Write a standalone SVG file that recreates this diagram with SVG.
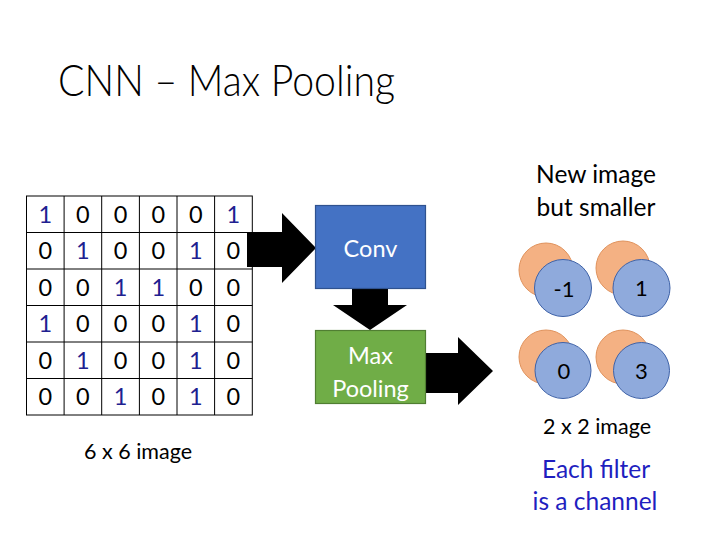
<svg xmlns="http://www.w3.org/2000/svg" width="720" height="540" viewBox="0 0 720 540">
<style>
text{font-family:Lato,"Open Sans","Liberation Sans",sans-serif;}
.t{font-size:44px;font-weight:300;fill:#000;}
.g{font-size:23.5px;text-anchor:middle;fill:#000;}
.one{fill:#202090;}
.lbl{font-size:21.5px;text-anchor:middle;fill:#000;}
.big{font-size:24.5px;text-anchor:middle;fill:#000;}
.blue{font-size:24.5px;text-anchor:middle;fill:#1f1fbf;}
.box{font-size:23.5px;text-anchor:middle;fill:#fff;}
.gl{stroke:#000;stroke-width:1;fill:none;}
.or{fill:#F4B183;stroke:#E0925C;stroke-width:1;}
.bl{fill:#8FAADC;stroke:#3E62A8;stroke-width:1;}
.arr{fill:#000;}
.c{font-size:22px;text-anchor:middle;fill:#000;}
</style>
<rect width="720" height="540" fill="#fff"/>
<text class="t" x="58" y="96" textLength="337" lengthAdjust="spacingAndGlyphs">CNN – Max Pooling</text>

<g id="connectors">
<polygon class="arr" points="247,232 282,232 282,213 316,248 282,283 282,267 247,267"/>
<polygon class="arr" points="352,289 388,289 388,305 407,305 370,330 333,305 352,305"/>
<polygon class="arr" points="423,353 458,353 458,337 493,371 458,405 458,393 423,393"/>
</g>

<g id="grid">
<g class="gl">
<rect x="26.5" y="196" width="225.8" height="219"/>
<line x1="64.1" y1="196" x2="64.1" y2="415"/>
<line x1="101.7" y1="196" x2="101.7" y2="415"/>
<line x1="139.4" y1="196" x2="139.4" y2="415"/>
<line x1="177" y1="196" x2="177" y2="415"/>
<line x1="214.6" y1="196" x2="214.6" y2="415"/>
<line x1="26.5" y1="232.5" x2="252.3" y2="232.5"/>
<line x1="26.5" y1="269" x2="252.3" y2="269"/>
<line x1="26.5" y1="305.5" x2="252.3" y2="305.5"/>
<line x1="26.5" y1="342" x2="252.3" y2="342"/>
<line x1="26.5" y1="378.5" x2="252.3" y2="378.5"/>
</g>
<text class="g one" x="45.3" y="222.5">1</text><text class="g" x="82.9" y="222.5">0</text><text class="g" x="120.5" y="222.5">0</text><text class="g" x="158.2" y="222.5">0</text><text class="g" x="195.8" y="222.5">0</text><text class="g one" x="233.4" y="222.5">1</text>
<text class="g" x="45.3" y="259">0</text><text class="g one" x="82.9" y="259">1</text><text class="g" x="120.5" y="259">0</text><text class="g" x="158.2" y="259">0</text><text class="g one" x="195.8" y="259">1</text><text class="g" x="233.4" y="259">0</text>
<text class="g" x="45.3" y="295.5">0</text><text class="g" x="82.9" y="295.5">0</text><text class="g one" x="120.5" y="295.5">1</text><text class="g one" x="158.2" y="295.5">1</text><text class="g" x="195.8" y="295.5">0</text><text class="g" x="233.4" y="295.5">0</text>
<text class="g one" x="45.3" y="332">1</text><text class="g" x="82.9" y="332">0</text><text class="g" x="120.5" y="332">0</text><text class="g" x="158.2" y="332">0</text><text class="g one" x="195.8" y="332">1</text><text class="g" x="233.4" y="332">0</text>
<text class="g" x="45.3" y="368.5">0</text><text class="g one" x="82.9" y="368.5">1</text><text class="g" x="120.5" y="368.5">0</text><text class="g" x="158.2" y="368.5">0</text><text class="g one" x="195.8" y="368.5">1</text><text class="g" x="233.4" y="368.5">0</text>
<text class="g" x="45.3" y="405">0</text><text class="g" x="82.9" y="405">0</text><text class="g one" x="120.5" y="405">1</text><text class="g" x="158.2" y="405">0</text><text class="g one" x="195.8" y="405">1</text><text class="g" x="233.4" y="405">0</text>
</g>
<text class="lbl" x="138" y="459">6 x 6 image</text>

<g id="conv">
<rect x="315.5" y="205.5" width="110" height="83" fill="#4472C4" stroke="#2F528F" stroke-width="1.2"/>
<text class="box" x="370.5" y="257">Conv</text>
</g>
<g id="maxpool">
<rect x="315.5" y="330.5" width="110" height="73" fill="#70AD47" stroke="#507E32" stroke-width="1.2"/>
<text class="box" x="370.5" y="364">Max</text>
<text class="box" x="370.5" y="397">Pooling</text>
</g>

<text class="big" x="596" y="183">New image</text>
<text class="big" x="596" y="216">but smaller</text>

<g id="out11"><circle class="or" cx="546" cy="270" r="27"/><circle class="bl" cx="563" cy="288" r="28.5"/><text class="c" x="564" y="297">-1</text></g>
<g id="out12"><circle class="or" cx="623" cy="268" r="27"/><circle class="bl" cx="641.5" cy="288" r="28.5"/><text class="c" x="641.5" y="296">1</text></g>
<g id="out21"><circle class="or" cx="546" cy="357" r="27"/><circle class="bl" cx="563" cy="370.5" r="28"/><text class="c" x="564" y="379">0</text></g>
<g id="out22"><circle class="or" cx="623" cy="357" r="27"/><circle class="bl" cx="641.5" cy="370.5" r="28"/><text class="c" x="641.5" y="379">3</text></g>

<text class="lbl" x="597" y="434">2 x 2 image</text>
<text class="blue" x="596" y="478">Each filter</text>
<text class="blue" x="595" y="510">is a channel</text>
</svg>
